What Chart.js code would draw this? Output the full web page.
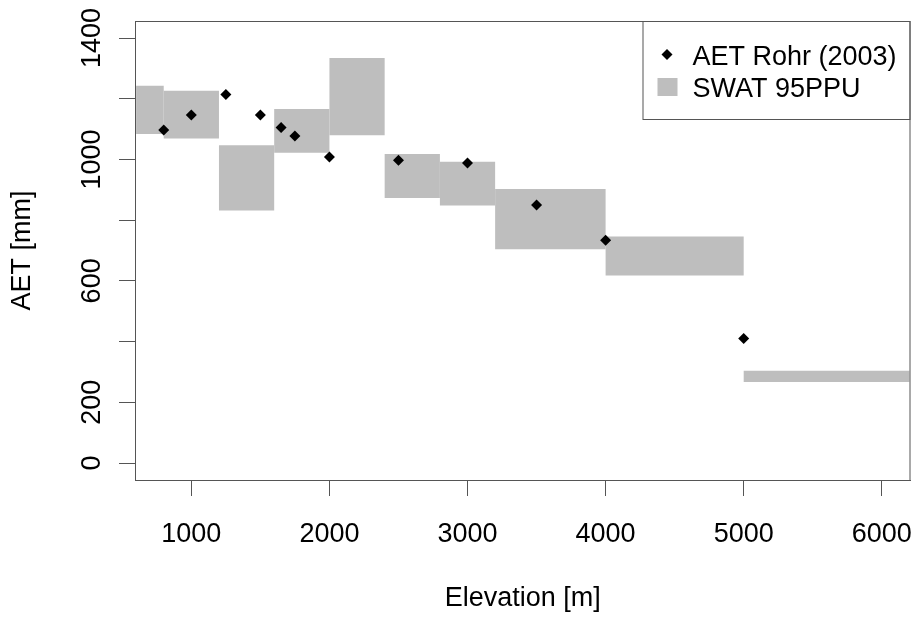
<!DOCTYPE html>
<html>
<head>
<meta charset="utf-8">
<script src="https://cdn.jsdelivr.net/npm/chart.js@4/dist/chart.umd.min.js"></script>
<style>
  html, body { margin: 0; padding: 0; background: #fff; }
  #wrap { width: 916px; height: 617px; }
</style>
</head>
<body>
<div id="wrap"><canvas id="aetChart" width="916" height="617"></canvas></div>
<script>
// AET observations (Rohr 2003)
const aetElev = [800, 1000, 1250, 1500, 1650, 1750, 2000, 2500, 3000, 3500, 4000, 5000];
const aetRohr = [1097, 1146, 1214, 1146, 1105, 1077, 1008, 997, 988, 850, 734, 410];

// SWAT 95PPU bands per elevation zone
const bandStart = [600, 800, 1200, 1600, 2000, 2400, 2800, 3200, 4000, 5000];
const bandEnd = [800, 1200, 1600, 2000, 2400, 2800, 3200, 4000, 5000, 6200];
const bandLow = [1084, 1069, 832, 1022, 1080, 873, 848, 704, 618, 267];
const bandHigh = [1243, 1226, 1047, 1166, 1334, 1018, 992, 903, 746, 304];

const xTicks = [1000, 2000, 3000, 4000, 5000, 6000];
const yTicks = [0, 200, 400, 600, 800, 1000, 1200, 1400];
const yTickLabels = [0, 200, 600, 1000, 1400];
const legendLabels = ['AET Rohr (2003)', 'SWAT 95PPU'];

const FONT = '"Liberation Sans", Arial, sans-serif';
const AXIS_COL = '#555';
const BAND_COL = '#bebebe';

const bandSets = bandStart.map((x0, i) => ({
    type: 'line',
    label: legendLabels[1],
    data: [
        { x: x0, y: bandLow[i] },
        { x: x0, y: bandHigh[i] },
        { x: bandEnd[i], y: bandHigh[i] },
        { x: bandEnd[i], y: bandLow[i] },
        { x: x0, y: bandLow[i] },
    ],
    fill: 'shape',
    backgroundColor: BAND_COL,
    borderWidth: 0,
    borderColor: 'rgba(0,0,0,0)',
    pointRadius: 0,
    tension: 0,
    order: 2,
}));

const pointSet = {
    type: 'scatter',
    label: legendLabels[0],
    data: aetElev.map((x, i) => ({ x: x, y: aetRohr[i] })),
    pointStyle: 'rectRot',
    pointRadius: 5.5,
    backgroundColor: '#000',
    borderColor: '#000',
    borderWidth: 0,
    order: 1,
};

// box, rotated y labels and legend, R style
const framePlugin = {
    id: 'frame',
    afterDraw(chart) {
        const { ctx, chartArea: a } = chart;
        const yScale = chart.scales.y;
        ctx.save();
        ctx.strokeStyle = AXIS_COL;
        ctx.lineWidth = 1;
        ctx.strokeRect(a.left + 0.5, a.top + 0.5, a.right - a.left - 1, a.bottom - a.top);

        ctx.fillStyle = '#000';
        ctx.font = '27px ' + FONT;
        ctx.textAlign = 'center';
        ctx.textBaseline = 'alphabetic';
        yTickLabels.forEach((v) => {
            ctx.save();
            ctx.translate(100, yScale.getPixelForValue(v));
            ctx.rotate(-Math.PI / 2);
            ctx.fillText(String(v), 0, 0);
            ctx.restore();
        });

        // legend
        const lx = a.right - 268;
        const ly = a.top;
        ctx.strokeRect(lx + 0.5, ly + 0.5, 267, 98);
        ctx.beginPath();
        ctx.moveTo(lx + 24.5, ly + 28);
        ctx.lineTo(lx + 30, ly + 33.5);
        ctx.lineTo(lx + 24.5, ly + 39);
        ctx.lineTo(lx + 19, ly + 33.5);
        ctx.closePath();
        ctx.fill();
        ctx.fillStyle = BAND_COL;
        ctx.fillRect(lx + 15, ly + 57, 20, 18);
        ctx.fillStyle = '#000';
        ctx.textAlign = 'left';
        ctx.fillText(legendLabels[0], lx + 50, ly + 44);
        ctx.fillText(legendLabels[1], lx + 50, ly + 76);
        ctx.restore();
    },
};

const ctx = document.getElementById('aetChart').getContext('2d');
new Chart(ctx, {
    type: 'scatter',
    data: { datasets: [pointSet, ...bandSets] },
    options: {
        responsive: false,
        animation: false,
        layout: { padding: { top: 21, right: 4, left: 0, bottom: 0 } },
        plugins: {
            legend: { display: false },
            tooltip: { enabled: false },
        },
        scales: {
            x: {
                type: 'linear',
                min: 592,
                max: 6208,
                afterFit(scale) {
                    scale.height = 137;
                    scale.paddingLeft = 0;
                    scale.paddingRight = 0;
                },
                afterBuildTicks(scale) {
                    scale.ticks = xTicks.map((v) => ({ value: v }));
                },
                ticks: {
                    autoSkip: false,
                    maxRotation: 0,
                    padding: 22,
                    color: '#000',
                    font: { family: FONT, size: 27 },
                    callback: (v) => String(v),
                },
                grid: {
                    drawOnChartArea: false,
                    drawTicks: true,
                    tickLength: 16,
                    tickColor: AXIS_COL,
                },
                border: { display: true, color: AXIS_COL, width: 1 },
                title: {
                    display: true,
                    text: 'Elevation [m]',
                    color: '#000',
                    font: { family: FONT, size: 27 },
                    padding: { top: 0, bottom: 2 },
                },
            },
            y: {
                type: 'linear',
                min: -56,
                max: 1456,
                afterFit(scale) {
                    scale.width = 135;
                    scale.paddingTop = 0;
                    scale.paddingBottom = 0;
                },
                afterBuildTicks(scale) {
                    scale.ticks = yTicks.map((v) => ({ value: v }));
                },
                ticks: { display: false },
                grid: {
                    drawOnChartArea: false,
                    drawTicks: true,
                    tickLength: 16,
                    tickColor: AXIS_COL,
                },
                border: { display: true, color: AXIS_COL, width: 1 },
                title: {
                    display: true,
                    text: 'AET [mm]',
                    color: '#000',
                    font: { family: FONT, size: 27 },
                    padding: { top: 6, bottom: 0 },
                },
            },
        },
    },
    plugins: [framePlugin],
});
</script>
</body>
</html>
